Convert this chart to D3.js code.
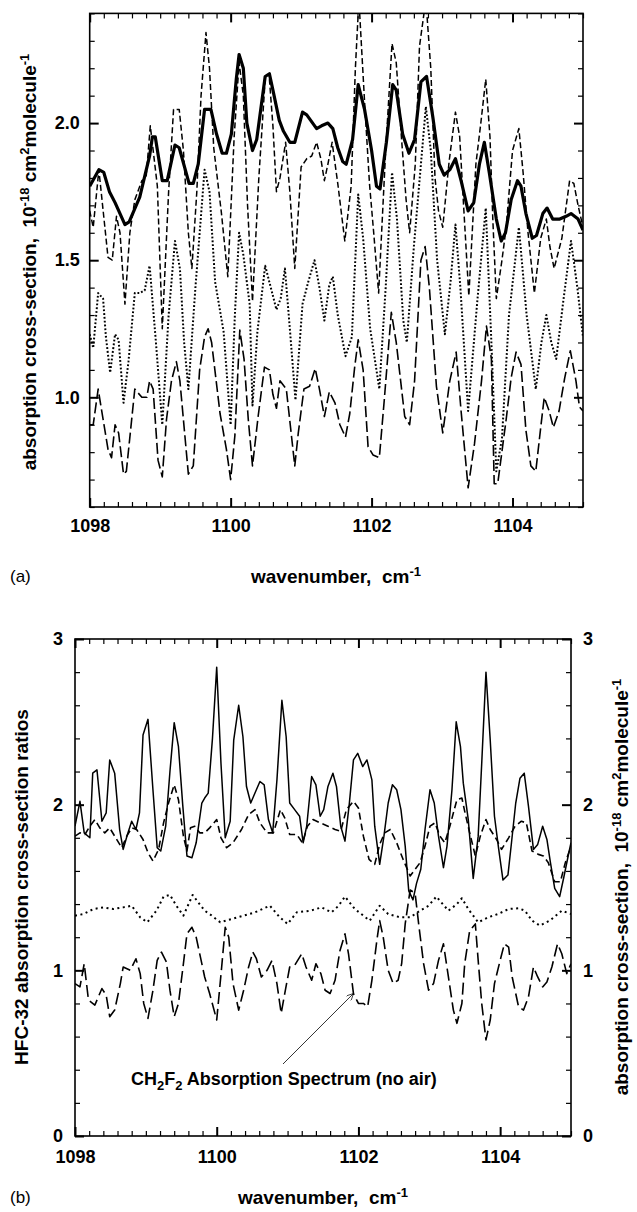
<!DOCTYPE html>
<html><head><meta charset="utf-8">
<script src="https://cdn.jsdelivr.net/npm/d3@7"></script>
<style>body{margin:0;background:#fff}svg{display:block}text{font-family:Arial,"Liberation Sans",sans-serif}</style>
</head><body><svg id="c" width="637" height="1212"></svg>
<script>
// ---------- DATA (wavenumber cm^-1, value) ----------
const xMajorTicks = [1098, 1100, 1102, 1104];
const topYMajorTicks = [1.0, 1.5, 2.0];
const botYMajorTicks = [0, 1, 2, 3];

// Panel (a)
const topSolid = [[1098.0,1.77],[1098.13,1.83],[1098.2,1.82],[1098.28,1.75],[1098.36,1.71],[1098.5,1.63],[1098.56,1.64],[1098.71,1.73],[1098.85,1.88],[1098.89,1.95],[1098.93,1.95],[1099.03,1.79],[1099.1,1.79],[1099.21,1.92],[1099.27,1.91],[1099.41,1.78],[1099.47,1.78],[1099.54,1.85],[1099.63,2.05],[1099.72,2.05],[1099.8,1.96],[1099.88,1.89],[1099.94,1.89],[1100.01,1.96],[1100.08,2.16],[1100.12,2.25],[1100.18,2.2],[1100.23,2.0],[1100.31,1.9],[1100.37,1.94],[1100.49,2.17],[1100.55,2.18],[1100.6,2.12],[1100.69,2.01],[1100.75,1.97],[1100.84,1.93],[1100.91,1.93],[1101.02,2.04],[1101.08,2.03],[1101.22,1.98],[1101.29,1.99],[1101.38,2.0],[1101.45,1.98],[1101.52,1.91],[1101.59,1.86],[1101.64,1.85],[1101.73,1.94],[1101.81,2.14],[1101.9,2.05],[1102.0,1.9],[1102.07,1.77],[1102.12,1.76],[1102.21,1.93],[1102.3,2.14],[1102.35,2.12],[1102.44,1.96],[1102.53,1.89],[1102.61,1.94],[1102.7,2.15],[1102.78,2.17],[1102.87,2.02],[1102.96,1.85],[1103.03,1.81],[1103.11,1.83],[1103.19,1.87],[1103.27,1.79],[1103.37,1.68],[1103.45,1.71],[1103.53,1.85],[1103.6,1.93],[1103.67,1.82],[1103.77,1.65],[1103.84,1.57],[1103.9,1.6],[1103.98,1.72],[1104.07,1.79],[1104.12,1.77],[1104.19,1.67],[1104.28,1.58],[1104.34,1.59],[1104.43,1.67],[1104.49,1.69],[1104.57,1.65],[1104.67,1.65],[1104.76,1.66],[1104.83,1.67],[1104.93,1.65],[1105.0,1.61]];
const topDashed = [[1098.0,1.68],[1098.05,1.62],[1098.13,1.83],[1098.26,1.51],[1098.32,1.5],[1098.38,1.66],[1098.43,1.6],[1098.5,1.34],[1098.57,1.6],[1098.64,1.72],[1098.74,1.79],[1098.8,1.8],[1098.86,1.99],[1098.96,1.77],[1099.03,1.25],[1099.12,1.75],[1099.19,2.05],[1099.27,2.05],[1099.33,1.9],[1099.4,1.6],[1099.45,1.47],[1099.52,1.75],[1099.58,2.1],[1099.65,2.33],[1099.7,2.2],[1099.76,1.91],[1099.87,1.67],[1099.96,1.44],[1100.05,1.95],[1100.12,2.22],[1100.18,2.1],[1100.24,1.7],[1100.31,1.35],[1100.4,1.8],[1100.49,2.16],[1100.55,2.16],[1100.6,1.99],[1100.65,1.75],[1100.7,1.8],[1100.78,1.93],[1100.84,1.75],[1100.91,1.47],[1101.0,1.84],[1101.08,1.87],[1101.15,1.88],[1101.22,1.93],[1101.28,1.87],[1101.33,1.79],[1101.38,1.85],[1101.44,1.93],[1101.52,1.78],[1101.62,1.57],[1101.71,1.77],[1101.77,2.2],[1101.82,2.45],[1101.9,2.08],[1101.97,1.78],[1102.03,1.6],[1102.1,1.38],[1102.2,1.9],[1102.29,2.29],[1102.35,2.22],[1102.42,1.96],[1102.49,1.72],[1102.54,1.6],[1102.62,1.85],[1102.68,2.28],[1102.77,2.45],[1102.84,2.2],[1102.9,1.8],[1102.95,1.68],[1103.01,1.62],[1103.1,1.86],[1103.19,2.04],[1103.25,1.95],[1103.31,1.68],[1103.38,1.37],[1103.48,1.85],[1103.55,2.0],[1103.62,2.16],[1103.68,1.95],[1103.72,1.65],[1103.77,1.36],[1103.85,1.5],[1103.91,1.62],[1104.0,1.9],[1104.09,1.98],[1104.15,1.82],[1104.22,1.6],[1104.31,1.38],[1104.4,1.58],[1104.48,1.65],[1104.53,1.55],[1104.59,1.47],[1104.7,1.58],[1104.81,1.79],[1104.87,1.78],[1104.93,1.7],[1105.0,1.62]];
const topDotted = [[1098.0,1.23],[1098.05,1.18],[1098.12,1.38],[1098.19,1.36],[1098.23,1.22],[1098.29,1.09],[1098.36,1.23],[1098.41,1.21],[1098.48,0.98],[1098.55,1.13],[1098.64,1.38],[1098.71,1.38],[1098.78,1.39],[1098.85,1.48],[1098.94,1.2],[1099.03,0.9],[1099.12,1.3],[1099.21,1.57],[1099.28,1.47],[1099.34,1.2],[1099.4,1.03],[1099.5,1.4],[1099.63,1.83],[1099.7,1.75],[1099.78,1.42],[1099.9,1.24],[1100.0,0.9],[1100.06,1.3],[1100.12,1.6],[1100.18,1.52],[1100.27,1.34],[1100.31,0.97],[1100.38,1.24],[1100.49,1.48],[1100.57,1.4],[1100.65,1.32],[1100.71,1.36],[1100.77,1.47],[1100.84,1.25],[1100.92,0.99],[1101.02,1.34],[1101.1,1.42],[1101.19,1.5],[1101.26,1.4],[1101.33,1.28],[1101.4,1.41],[1101.45,1.44],[1101.52,1.3],[1101.63,1.15],[1101.72,1.22],[1101.81,1.74],[1101.88,1.58],[1101.98,1.25],[1102.11,1.03],[1102.2,1.4],[1102.29,1.82],[1102.36,1.65],[1102.45,1.28],[1102.5,1.2],[1102.6,1.55],[1102.77,2.06],[1102.84,1.9],[1102.93,1.5],[1103.04,1.23],[1103.12,1.42],[1103.19,1.63],[1103.26,1.4],[1103.37,0.95],[1103.5,1.35],[1103.62,1.69],[1103.7,1.2],[1103.77,0.73],[1103.85,0.85],[1103.95,1.3],[1104.09,1.62],[1104.2,1.3],[1104.33,1.03],[1104.41,1.2],[1104.48,1.3],[1104.55,1.2],[1104.62,1.14],[1104.72,1.35],[1104.83,1.57],[1104.92,1.4],[1105.0,1.22]];
const topLongDash = [[1098.0,0.9],[1098.05,0.9],[1098.12,1.03],[1098.26,0.81],[1098.31,0.78],[1098.36,0.9],[1098.41,0.87],[1098.48,0.72],[1098.52,0.73],[1098.64,1.03],[1098.74,1.0],[1098.81,1.0],[1098.85,1.06],[1098.9,1.03],[1098.97,0.77],[1099.03,0.71],[1099.09,0.92],[1099.16,1.06],[1099.23,1.13],[1099.28,1.06],[1099.4,0.72],[1099.47,0.75],[1099.56,1.1],[1099.63,1.22],[1099.68,1.25],[1099.73,1.2],[1099.85,0.94],[1099.94,0.81],[1100.0,0.7],[1100.06,0.86],[1100.13,1.245],[1100.19,1.14],[1100.25,0.92],[1100.31,0.75],[1100.39,0.93],[1100.48,1.11],[1100.55,1.1],[1100.6,1.01],[1100.65,0.96],[1100.7,1.06],[1100.79,1.03],[1100.91,0.75],[1100.96,0.87],[1101.04,1.03],[1101.12,1.04],[1101.2,1.105],[1101.26,1.03],[1101.33,0.93],[1101.4,1.02],[1101.48,0.98],[1101.55,0.9],[1101.63,0.855],[1101.69,0.94],[1101.76,1.11],[1101.81,1.21],[1101.88,1.1],[1101.95,0.82],[1102.02,0.79],[1102.11,0.78],[1102.18,0.99],[1102.28,1.31],[1102.35,1.2],[1102.47,0.93],[1102.54,0.9],[1102.61,1.06],[1102.7,1.5],[1102.76,1.55],[1102.82,1.4],[1102.92,1.04],[1103.01,0.87],[1103.11,1.06],[1103.2,1.165],[1103.27,0.95],[1103.37,0.67],[1103.46,0.83],[1103.56,1.06],[1103.63,1.26],[1103.7,1.14],[1103.74,0.685],[1103.79,0.685],[1103.91,0.92],[1103.98,1.07],[1104.05,1.165],[1104.12,1.12],[1104.19,0.88],[1104.26,0.75],[1104.33,0.73],[1104.4,0.89],[1104.45,1.0],[1104.52,0.95],[1104.58,0.89],[1104.66,0.95],[1104.74,1.07],[1104.82,1.17],[1104.9,1.06],[1104.95,0.965],[1105.0,0.95]];

// Panel (b)
const botSolid = [[1098.0,1.87],[1098.07,2.02],[1098.13,1.83],[1098.21,1.8],[1098.25,2.19],[1098.31,2.21],[1098.38,1.9],[1098.44,1.95],[1098.49,2.27],[1098.56,2.19],[1098.63,1.85],[1098.68,1.73],[1098.74,1.82],[1098.8,1.9],[1098.86,1.85],[1098.91,1.95],[1098.96,2.42],[1099.03,2.515],[1099.1,2.09],[1099.16,1.74],[1099.21,1.72],[1099.28,1.87],[1099.34,2.2],[1099.4,2.495],[1099.46,2.35],[1099.52,2.0],[1099.58,1.69],[1099.65,1.68],[1099.71,1.77],[1099.79,2.01],[1099.83,2.04],[1099.88,2.07],[1099.94,2.4],[1100.0,2.83],[1100.06,2.25],[1100.12,1.8],[1100.19,1.9],[1100.24,2.39],[1100.31,2.6],[1100.37,2.41],[1100.42,2.11],[1100.48,2.01],[1100.54,2.07],[1100.61,2.14],[1100.67,2.12],[1100.73,1.91],[1100.79,1.83],[1100.85,2.15],[1100.92,2.63],[1100.98,2.41],[1101.03,2.01],[1101.1,1.97],[1101.17,1.93],[1101.22,1.77],[1101.27,1.87],[1101.34,2.17],[1101.4,2.12],[1101.46,1.93],[1101.51,1.97],[1101.57,2.11],[1101.64,2.19],[1101.69,2.11],[1101.75,1.87],[1101.81,1.78],[1101.87,2.0],[1101.93,2.27],[1101.99,2.31],[1102.06,2.23],[1102.12,2.27],[1102.19,2.15],[1102.23,1.87],[1102.3,1.64],[1102.36,1.81],[1102.42,2.01],[1102.48,2.12],[1102.54,2.09],[1102.6,1.97],[1102.66,1.75],[1102.71,1.48],[1102.77,1.425],[1102.82,1.525],[1102.88,1.61],[1102.94,1.85],[1103.01,2.09],[1103.07,2.01],[1103.13,1.81],[1103.2,1.62],[1103.25,1.75],[1103.32,2.09],[1103.38,2.5],[1103.44,2.35],[1103.48,2.13],[1103.55,1.91],[1103.62,1.555],[1103.69,1.81],[1103.74,2.25],[1103.8,2.8],[1103.86,2.39],[1103.92,1.93],[1103.98,1.73],[1104.04,1.545],[1104.11,1.575],[1104.16,1.77],[1104.22,2.01],[1104.28,2.16],[1104.34,2.19],[1104.4,1.99],[1104.47,1.73],[1104.53,1.76],[1104.6,1.87],[1104.66,1.79],[1104.71,1.65],[1104.77,1.495],[1104.84,1.445],[1104.9,1.565],[1104.96,1.69],[1105.0,1.77]];
const botDashed = [[1098.0,1.81],[1098.07,1.83],[1098.14,1.82],[1098.21,1.87],[1098.28,1.91],[1098.35,1.86],[1098.42,1.83],[1098.49,1.86],[1098.56,1.81],[1098.66,1.74],[1098.73,1.81],[1098.8,1.86],[1098.87,1.85],[1098.96,1.79],[1099.03,1.71],[1099.1,1.66],[1099.18,1.73],[1099.25,1.89],[1099.32,2.01],[1099.4,2.12],[1099.46,2.03],[1099.53,1.81],[1099.58,1.72],[1099.63,1.86],[1099.69,1.87],[1099.76,1.83],[1099.83,1.83],[1099.9,1.86],[1100.0,1.91],[1100.06,1.8],[1100.14,1.74],[1100.23,1.77],[1100.35,1.85],[1100.45,1.94],[1100.54,1.97],[1100.61,1.89],[1100.71,1.83],[1100.8,1.83],[1100.9,1.97],[1100.96,1.92],[1101.03,1.82],[1101.13,1.82],[1101.21,1.77],[1101.28,1.87],[1101.36,1.91],[1101.46,1.89],[1101.57,1.87],[1101.67,1.85],[1101.75,1.84],[1101.83,1.97],[1101.93,2.02],[1102.0,1.98],[1102.07,1.81],[1102.15,1.67],[1102.23,1.64],[1102.3,1.76],[1102.37,1.83],[1102.45,1.85],[1102.54,1.77],[1102.63,1.67],[1102.73,1.57],[1102.8,1.61],[1102.87,1.65],[1102.94,1.75],[1103.01,1.87],[1103.08,1.89],[1103.15,1.81],[1103.22,1.77],[1103.29,1.87],[1103.39,2.03],[1103.46,2.04],[1103.5,1.96],[1103.57,1.83],[1103.65,1.69],[1103.72,1.81],[1103.8,1.91],[1103.86,1.85],[1103.95,1.79],[1104.02,1.73],[1104.12,1.8],[1104.21,1.87],[1104.3,1.9],[1104.37,1.89],[1104.45,1.72],[1104.54,1.7],[1104.61,1.69],[1104.68,1.65],[1104.77,1.535],[1104.85,1.535],[1104.92,1.65],[1105.0,1.75]];
const botDotted = [[1098.0,1.33],[1098.12,1.34],[1098.26,1.37],[1098.4,1.38],[1098.54,1.37],[1098.68,1.38],[1098.8,1.39],[1098.92,1.32],[1099.02,1.29],[1099.15,1.36],[1099.25,1.445],[1099.34,1.455],[1099.43,1.39],[1099.53,1.33],[1099.66,1.455],[1099.74,1.41],[1099.83,1.36],[1099.9,1.34],[1100.05,1.29],[1100.21,1.31],[1100.38,1.33],[1100.54,1.35],[1100.75,1.39],[1100.89,1.32],[1101.0,1.28],[1101.13,1.35],[1101.32,1.36],[1101.48,1.38],[1101.62,1.35],[1101.72,1.39],[1101.81,1.445],[1101.95,1.37],[1102.16,1.3],[1102.3,1.39],[1102.42,1.34],[1102.59,1.32],[1102.73,1.32],[1102.87,1.36],[1102.99,1.39],[1103.1,1.445],[1103.27,1.36],[1103.39,1.4],[1103.46,1.435],[1103.55,1.37],[1103.69,1.29],[1103.83,1.32],[1103.97,1.34],[1104.12,1.37],[1104.26,1.375],[1104.35,1.36],[1104.45,1.3],[1104.56,1.27],[1104.7,1.3],[1104.87,1.36],[1105.0,1.34]];
const botLongDash = [[1098.0,0.92],[1098.07,0.9],[1098.13,1.04],[1098.19,0.82],[1098.28,0.79],[1098.38,0.89],[1098.44,0.85],[1098.49,0.72],[1098.56,0.76],[1098.64,0.92],[1098.68,1.02],[1098.78,1.0],[1098.86,1.07],[1098.92,0.98],[1098.97,0.8],[1099.03,0.71],[1099.1,0.88],[1099.16,1.06],[1099.22,1.11],[1099.29,1.05],[1099.34,0.88],[1099.4,0.72],[1099.46,0.8],[1099.53,1.04],[1099.58,1.22],[1099.65,1.26],[1099.71,1.2],[1099.79,1.04],[1099.83,0.96],[1099.9,0.86],[1100.0,0.7],[1100.07,1.02],[1100.12,1.26],[1100.17,1.2],[1100.23,0.92],[1100.31,0.76],[1100.38,0.88],[1100.45,1.02],[1100.51,1.11],[1100.56,1.07],[1100.63,0.96],[1100.71,1.0],[1100.78,1.06],[1100.85,0.92],[1100.91,0.74],[1100.96,0.86],[1101.03,1.02],[1101.1,1.03],[1101.2,1.1],[1101.26,1.02],[1101.34,0.94],[1101.4,1.04],[1101.47,0.98],[1101.53,0.88],[1101.6,0.86],[1101.67,0.94],[1101.74,1.12],[1101.81,1.22],[1101.86,1.1],[1101.93,0.86],[1102.0,0.8],[1102.07,0.8],[1102.13,0.78],[1102.19,0.94],[1102.26,1.18],[1102.3,1.3],[1102.35,1.2],[1102.42,1.0],[1102.49,0.92],[1102.56,0.94],[1102.61,1.04],[1102.66,1.28],[1102.73,1.485],[1102.8,1.465],[1102.85,1.28],[1102.92,1.04],[1102.99,0.88],[1103.06,0.92],[1103.13,1.06],[1103.2,1.16],[1103.27,0.96],[1103.34,0.76],[1103.39,0.68],[1103.46,0.8],[1103.5,1.04],[1103.57,1.24],[1103.65,1.28],[1103.69,1.06],[1103.74,0.8],[1103.8,0.58],[1103.86,0.7],[1103.92,0.92],[1104.0,1.06],[1104.06,1.16],[1104.12,1.14],[1104.17,0.96],[1104.26,0.78],[1104.33,0.76],[1104.4,0.84],[1104.47,1.02],[1104.53,0.96],[1104.6,0.9],[1104.66,0.93],[1104.73,1.02],[1104.81,1.16],[1104.87,1.1],[1104.94,0.98],[1105.0,1.04]];

// ---------- DRAWING ----------
const svg = d3.select("#c");
const FONT = 'Arial, "Liberation Sans", sans-serif';
const TICK_FS = 18, TITLE_FS = 19;

function range(a, b, s) { const o = []; for (let v = a; v <= b + 1e-9; v += s) o.push(+v.toFixed(3)); return o; }

function panel(cfg) {
  const x = d3.scaleLinear().domain([1098, 1105]).range([cfg.left, cfg.right]);
  const y = d3.scaleLinear().domain(cfg.yDomain).range([cfg.bottom, cfg.top]);
  const g = svg.append("g");
  const clipId = "clip" + cfg.id;
  svg.append("clipPath").attr("id", clipId).append("rect")
    .attr("x", cfg.left).attr("y", cfg.top).attr("width", cfg.right - cfg.left).attr("height", cfg.bottom - cfg.top);

  const line = d3.line().x(d => x(d[0])).y(d => y(d[1]));
  const lg = g.append("g").attr("clip-path", `url(#${clipId})`);
  cfg.series.forEach(s => {
    lg.append("path").datum(s.data).attr("d", line).attr("fill", "none")
      .attr("stroke", "#000").attr("stroke-width", s.w)
      .attr("stroke-dasharray", s.dash || null)
      .attr("stroke-linejoin", "round");
  });

  const xMinor = range(1098, 1105, 0.2).filter(v => !xMajorTicks.includes(Math.round(v * 1000) / 1000));
  const yMinor = range(cfg.yDomain[0], cfg.yDomain[1], cfg.yMinorStep).filter(v => !cfg.yMajor.some(m => Math.abs(m - v) < 1e-6));

  function ax(gen, scale, ticks, size, labels, transform, fmt) {
    const a = gen(scale).tickValues(ticks).tickSize(-size).tickPadding(cfg.pad)
      .tickFormat(labels ? fmt : () => "");
    const gg = g.append("g").attr("transform", transform).call(a);
    gg.select(".domain").remove();
    gg.selectAll(".tick line").attr("stroke", "#000").attr("stroke-width", size > 6 ? 2 : 1.2);
    gg.selectAll(".tick text").attr("font-family", FONT).attr("font-weight", "bold")
      .attr("font-size", TICK_FS).attr("fill", "#000");
    return gg;
  }
  ax(d3.axisBottom, x, xMinor, 5, false, `translate(0,${cfg.bottom})`);
  const bx = ax(d3.axisBottom, x, xMajorTicks, 9, true, `translate(0,${cfg.bottom})`, d3.format("d"));
  bx.selectAll(".tick text").attr("dy", "0.85em");
  ax(d3.axisTop, x, xMinor, 5, false, `translate(0,${cfg.top})`);
  ax(d3.axisTop, x, xMajorTicks, 9, false, `translate(0,${cfg.top})`);
  ax(d3.axisLeft, y, yMinor, 5, false, `translate(${cfg.left},0)`);
  ax(d3.axisLeft, y, cfg.yMajor, 9, true, `translate(${cfg.left},0)`, cfg.fmt);
  ax(d3.axisRight, y, yMinor, 5, false, `translate(${cfg.right},0)`);
  ax(d3.axisRight, y, cfg.yMajor, 9, cfg.rightLabels, `translate(${cfg.right},0)`, cfg.fmt);

  g.append("rect").attr("x", cfg.left).attr("y", cfg.top)
    .attr("width", cfg.right - cfg.left).attr("height", cfg.bottom - cfg.top)
    .attr("fill", "none").attr("stroke", "#000").attr("stroke-width", 1.6);
  return { x, y };
}

panel({
  id: "a", left: 89.7, right: 583, top: 13.4, bottom: 507,
  yDomain: [0.6, 2.4], yMajor: topYMajorTicks, yMinorStep: 0.1, fmt: d3.format(".1f"),
  pad: 10, rightLabels: false,
  series: [
    { data: topLongDash, w: 1.6, dash: "11,4" },
    { data: topDotted, w: 2, dash: "1.8,2" },
    { data: topDashed, w: 1.5, dash: "6,3" },
    { data: topSolid, w: 3.2 }
  ]
});

const pb = panel({
  id: "b", left: 75, right: 571, top: 639, bottom: 1136,
  yDomain: [0, 3], yMajor: botYMajorTicks, yMinorStep: 0.2, fmt: d3.format("d"),
  pad: 12, rightLabels: true,
  series: [
    { data: botLongDash, w: 1.6, dash: "12,5" },
    { data: botDotted, w: 2, dash: "2,3.5" },
    { data: botDashed, w: 1.6, dash: "7,4" },
    { data: botSolid, w: 1.5 }
  ]
});

// Texts
function supText(sel, parts) {
  sel.attr("xml:space", "preserve").style("white-space", "pre");
  parts.forEach(p => {
    const t = sel.append("tspan").text(p.t);
    if (p.sup) t.attr("dy", -7).attr("font-size", 13);
    else if (p.sub) t.attr("dy", 5).attr("font-size", 13);
    else if (p.reset) t.attr("dy", p.reset);
  });
}
const unitParts = [
  { t: "absorption cross-section,  10" }, { t: "-18", sup: true }, { t: " cm", reset: 7 },
  { t: "2", sup: true }, { t: "molecule", reset: 7 }, { t: "-1", sup: true }
];
supText(svg.append("text").attr("transform", "translate(36,262) rotate(-90)")
  .attr("text-anchor", "middle").attr("font-weight", "bold").attr("font-size", TITLE_FS), unitParts);
supText(svg.append("text").attr("x", 336).attr("y", 583).attr("text-anchor", "middle")
  .attr("font-weight", "bold").attr("font-size", TITLE_FS),
  [{ t: "wavenumber,  cm" }, { t: "-1", sup: true }]);
svg.append("text").attr("x", 10).attr("y", 582).attr("font-size", 17).text("(a)");

svg.append("text").attr("transform", "translate(28,887) rotate(-90)")
  .attr("text-anchor", "middle").attr("font-weight", "bold").attr("font-size", TITLE_FS)
  .text("HFC-32 absorption cross-section ratios");
supText(svg.append("text").attr("transform", "translate(628,887) rotate(-90)")
  .attr("text-anchor", "middle").attr("font-weight", "bold").attr("font-size", TITLE_FS), unitParts);
supText(svg.append("text").attr("x", 323).attr("y", 1204).attr("text-anchor", "middle")
  .attr("font-weight", "bold").attr("font-size", TITLE_FS),
  [{ t: "wavenumber,  cm" }, { t: "-1", sup: true }]);
svg.append("text").attr("x", 10).attr("y", 1203).attr("font-size", 17).text("(b)");

// annotation
const tipX = pb.x(1101.93), tipY = pb.y(0.86);
const tailX = 283, tailY = 1064;
svg.append("defs").append("marker").attr("id", "arr").attr("viewBox", "0 0 10 10")
  .attr("refX", 10).attr("refY", 5).attr("markerWidth", 10).attr("markerHeight", 7)
  .attr("markerUnits", "userSpaceOnUse").attr("orient", "auto")
  .append("path").attr("d", "M0,0 L10,5 L0,10").attr("fill", "none").attr("stroke", "#000").attr("stroke-width", 1);
svg.append("line").attr("x1", tailX).attr("y1", tailY).attr("x2", tipX).attr("y2", tipY)
  .attr("stroke", "#000").attr("stroke-width", 0.8).attr("marker-end", "url(#arr)");
supText(svg.append("text").attr("x", 131).attr("y", 1085).attr("font-weight", "bold").attr("font-size", 18),
  [{ t: "CH" }, { t: "2", sub: true }, { t: "F", reset: -5 }, { t: "2", sub: true }, { t: " Absorption Spectrum (no air)", reset: -5 }]);
</script></body></html>
